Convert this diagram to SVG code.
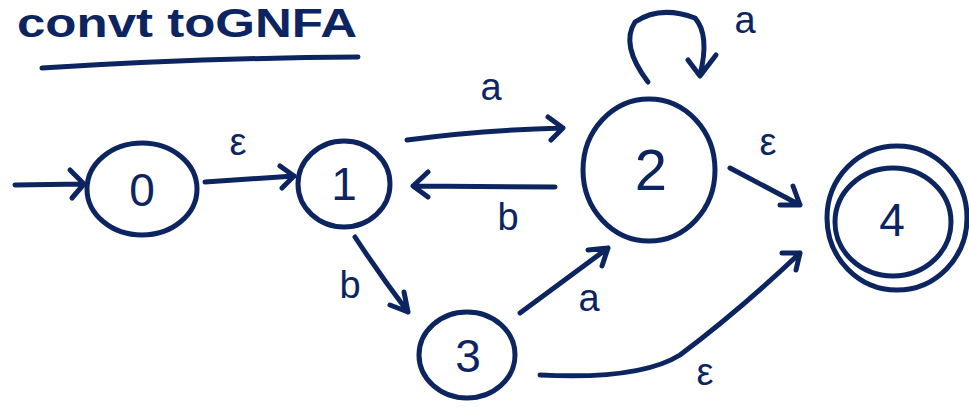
<svg xmlns="http://www.w3.org/2000/svg" width="969" height="407" viewBox="0 0 969 407">
<style>
.s{fill:none;stroke:#0c2460;stroke-width:5;stroke-linecap:round;stroke-linejoin:round}
.t{fill:#0c2460;font-family:"Liberation Sans",Arial,sans-serif;text-anchor:middle}
.n{font-size:46px}
.l{font-size:38px}
</style>
<rect width="969" height="407" fill="#fff"/>
<g id="title">
<text class="t" x="187" y="37" font-size="40" font-weight="bold" textLength="340" lengthAdjust="spacingAndGlyphs">convt toGNFA</text>
<path class="s" d="M42 68 Q200 58 358 57" stroke-width="7"/>
</g>
<g id="node0"><ellipse class="s" cx="142" cy="189" rx="55" ry="46"/><text class="t n" x="142" y="206">0</text></g>
<g id="node1"><ellipse class="s" cx="344" cy="184" rx="46" ry="43"/><text class="t n" x="344" y="200">1</text></g>
<g id="node2"><ellipse class="s" cx="649" cy="170" rx="66" ry="71"/><text class="t" x="651" y="190" font-size="58">2</text></g>
<g id="node3"><ellipse class="s" cx="467" cy="355" rx="48" ry="43"/><text class="t n" x="468" y="372">3</text></g>
<g id="node4"><ellipse class="s" cx="893" cy="222" rx="58" ry="54"/><ellipse class="s" cx="897" cy="218" rx="70" ry="72"/><text class="t n" x="892" y="236">4</text></g>
<g id="connectors">
<path class="s" d="M15 185 L84 184 M70 170 L84 184 L72 198"/>
<path class="s" d="M205 182 L294 176 M280 166 L294 176 L282 188"/>
<text class="t l" x="238" y="155">ε</text>
<path class="s" d="M407 140 Q480 130 563 128 M548 117 L563 128 L551 140"/>
<text class="t l" x="491" y="100">a</text>
<path class="s" d="M555 187 L413 186 M428 172 L413 186 L428 197"/>
<text class="t l" x="508" y="230">b</text>
<path class="s" d="M355 237 Q380 275 408 312 M404 292 L408 312 L390 305"/>
<text class="t l" x="350" y="298">b</text>
<path class="s" d="M520 313 L608 248 M588 250 L608 248 L602 266"/>
<text class="t l" x="589" y="311">a</text>
<path class="s" d="M730 168 L800 205 M793 186 L800 205 L780 205"/>
<text class="t l" x="768" y="155">ε</text>
<path class="s" d="M540 375 Q640 380 680 355 Q740 310 800 253 M782 253 L800 253 L796 270"/>
<text class="t l" x="705" y="385">ε</text>
<path class="s" d="M648 82 Q620 45 635 22 Q660 5 695 18 Q710 35 700 75 M688 60 L700 76 L716 55"/>
<text class="t l" x="745" y="33">a</text>
</g>
</svg>
